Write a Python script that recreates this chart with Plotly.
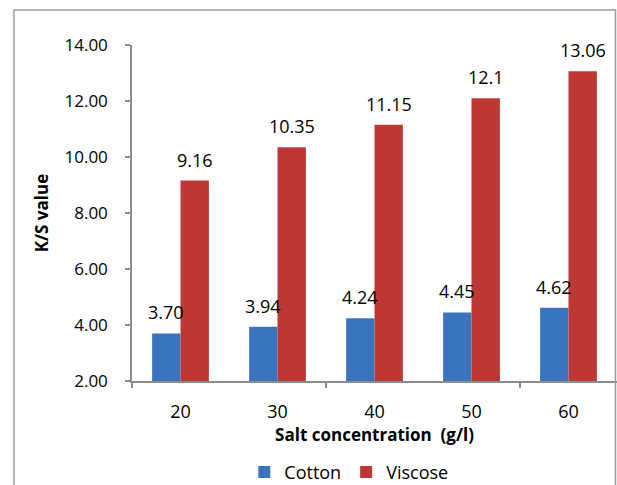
import plotly.graph_objects as go

salt = [20, 30, 40, 50, 60]
cotton = [3.70, 3.94, 4.24, 4.45, 4.62]
viscose = [9.16, 10.35, 11.15, 12.1, 13.06]
cotton_labels = ["3.70", "3.94", "4.24", "4.45", "4.62"]
viscose_labels = ["9.16", "10.35", "11.15", "12.1", "13.06"]

FONT = "Open Sans"
BARGAP = 0.415
step = salt[1] - salt[0]
half_offset = (1 - BARGAP) * step / 4

fig = go.Figure()
fig.add_trace(go.Bar(x=salt, y=cotton, name="Cotton",
                     marker=dict(color="#3A73BE", line=dict(width=0))))
fig.add_trace(go.Bar(x=salt, y=viscose, name="Viscose",
                     marker=dict(color="#BD3735", line=dict(width=0))))

annotations = []
for xv, yv, t in zip(salt, cotton, cotton_labels):
    annotations.append(dict(x=xv - half_offset, y=yv, text=t, showarrow=False,
                            xref="x", yref="y", yanchor="bottom", yshift=7,
                            font=dict(family=FONT, size=18, color="black")))
for xv, yv, t in zip(salt, viscose, viscose_labels):
    annotations.append(dict(x=xv + half_offset, y=yv, text=t, showarrow=False,
                            xref="x", yref="y", yanchor="bottom", yshift=7,
                            font=dict(family=FONT, size=18, color="black")))

fig.update_layout(
    width=617, height=485,
    margin=dict(l=132, r=0, t=45, b=104, pad=0, autoexpand=False),
    paper_bgcolor="white", plot_bgcolor="white",
    barmode="group", bargap=BARGAP, bargroupgap=0,
    font=dict(family=FONT, size=16, color="black"),
    showlegend=True,
    legend=dict(orientation="h", x=0.447, xanchor="center",
                yref="container", y=0.026, yanchor="middle",
                font=dict(family=FONT, size=18, color="black"),
                itemwidth=30, traceorder="normal"),
    annotations=annotations,
    shapes=[dict(type="path", xref="paper", yref="paper",
                 path="M -0.2433 -0.33 L -0.2433 1.1042 L 0.9969 1.1042 L 0.9969 -0.33",
                 line=dict(color="#9C9C9C", width=1.5))],
)

fig.update_xaxes(
    range=[salt[0] - step / 2, salt[-1] + step / 2],
    tickvals=salt, ticktext=[str(s) for s in salt],
    ticks="", showgrid=False, zeroline=False, automargin=False,
    showline=True, linecolor="#8C8C8C", linewidth=1.5,
    tickfont=dict(family=FONT, size=18),
    ticklabelstandoff=14,
    minor=dict(tickvals=[salt[0] - step / 2, salt[1] + step / 2, salt[3] + step / 2],
               ticks="outside", ticklen=5, tickcolor="#8C8C8C", tickwidth=1.5, showgrid=False),
    title=dict(text="<b>Salt concentration \u00a0(g/l)</b>", standoff=7,
               font=dict(family=FONT, size=17)),
)
fig.update_yaxes(
    range=[2, 14], dtick=2, tickformat=".2f",
    ticks="outside", ticklen=5, tickcolor="#8C8C8C", tickwidth=1.5,
    showgrid=False, zeroline=False, automargin=False,
    showline=True, linecolor="#8C8C8C", linewidth=1.5,
    tickfont=dict(family=FONT, size=17),
    ticklabelstandoff=14,
    title=dict(text="<b>K/S value</b>", standoff=12, font=dict(family=FONT, size=17)),
)

fig.write_html("out.html", config={"displayModeBar": False},
               post_script="document.body.style.margin='0px';")
